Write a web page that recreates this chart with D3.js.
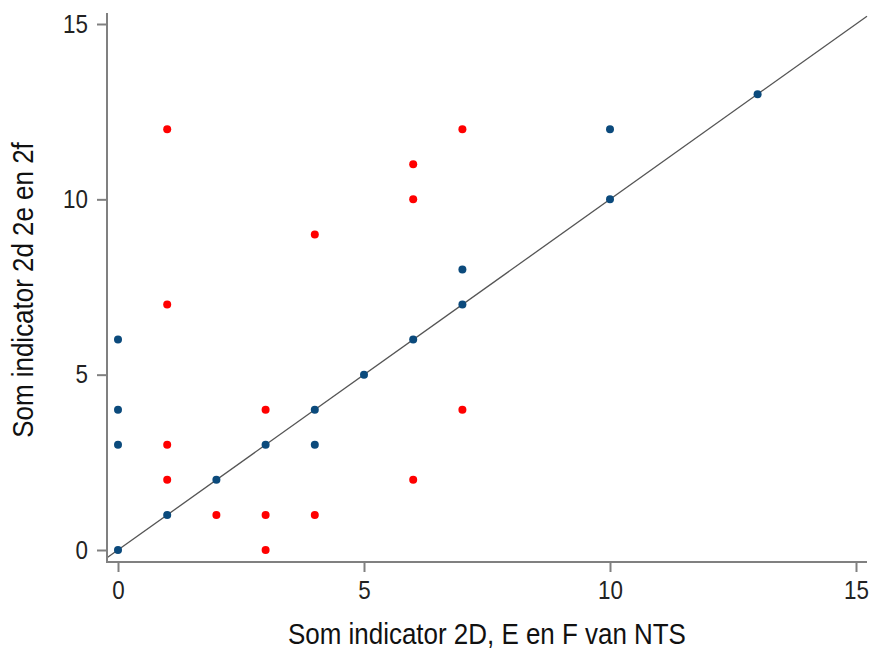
<!DOCTYPE html>
<html><head><meta charset="utf-8">
<script src="https://cdn.jsdelivr.net/npm/d3@7"></script>
<style>
body{margin:0;background:#fff;}
svg{display:block;font-family:"Liberation Sans",Arial,sans-serif;}
</style></head>
<body>
<svg id="c" width="872" height="650"></svg>
<script>
// Data
const blueX = [0,0,0,0,1,2,3,4,4,5,6,7,7,10,10,13];
const blueY = [0,3,4,6,1,2,3,3,4,5,6,7,8,10,12,13];
const redX  = [1,1,1,1,2,3,3,3,4,4,6,6,6,7,7];
const redY  = [12,7,3,2,1,4,1,0,9,1,11,10,2,12,4];
const xTicks = [0,5,10,15];
const yTicks = [0,5,10,15];
const xTitle = "Som indicator 2D, E en F van NTS";
const yTitle = "Som indicator 2d 2e en 2f";

const SX = 0.895; // horizontal glyph compression
const svg = d3.select("#c");
const x = d3.scaleLinear().domain([0,15]).range([118,856]);
const y = d3.scaleLinear().domain([0,15]).range([550,24]);
const axX = 107, axY = 562, xEnd = 867, yTop = 13;

// diagonal y=x
const x0 = x.invert(axX), x1 = x.invert(xEnd);
svg.append("line")
  .attr("x1", x(x0)).attr("y1", y(x0))
  .attr("x2", x(x1)).attr("y2", y(x1))
  .attr("stroke","#555").attr("stroke-width",1.3);

// axes
const gy = svg.append("g").attr("transform",`translate(${axX},0)`)
  .call(d3.axisLeft(y).tickValues(yTicks).tickSize(10).tickPadding(9).tickFormat(d3.format("d")));
gy.select(".domain").remove();
gy.selectAll(".tick text").attr("x", -19/SX);
const gx = svg.append("g").attr("transform",`translate(0,${axY})`)
  .call(d3.axisBottom(x).tickValues(xTicks).tickSize(10).tickPadding(9).tickFormat(d3.format("d")));
gx.select(".domain").remove();
svg.selectAll(".tick line").attr("stroke","#808080").attr("stroke-width",2);
svg.selectAll(".tick text").attr("fill","#222").attr("transform",`scale(${SX},1)`)
  .style("font-size","25px").style("font-family","'Liberation Sans',Arial,sans-serif");

svg.append("line").attr("x1",axX).attr("x2",axX).attr("y1",yTop).attr("y2",axY+1)
  .attr("stroke","#808080").attr("stroke-width",2);
svg.append("line").attr("x1",axX-1).attr("x2",xEnd).attr("y1",axY).attr("y2",axY)
  .attr("stroke","#808080").attr("stroke-width",2);

// points
svg.append("g").selectAll("circle").data(redX.map((v,i)=>[v,redY[i]])).join("circle")
  .attr("cx",d=>x(d[0])).attr("cy",d=>y(d[1])).attr("r",4).attr("fill","#ff0000");
svg.append("g").selectAll("circle").data(blueX.map((v,i)=>[v,blueY[i]])).join("circle")
  .attr("cx",d=>x(d[0])).attr("cy",d=>y(d[1])).attr("r",4).attr("fill","#0b4a7c");

// titles
svg.append("text").attr("transform",`translate(487,644) scale(${SX},1)`).attr("text-anchor","middle")
  .style("font-size","29px").attr("fill","#111").text(xTitle);
svg.append("text").attr("transform",`translate(33,290) rotate(-90) scale(${SX},1)`).attr("text-anchor","middle")
  .style("font-size","29px").attr("fill","#111").text(yTitle);
</script>
</body></html>
